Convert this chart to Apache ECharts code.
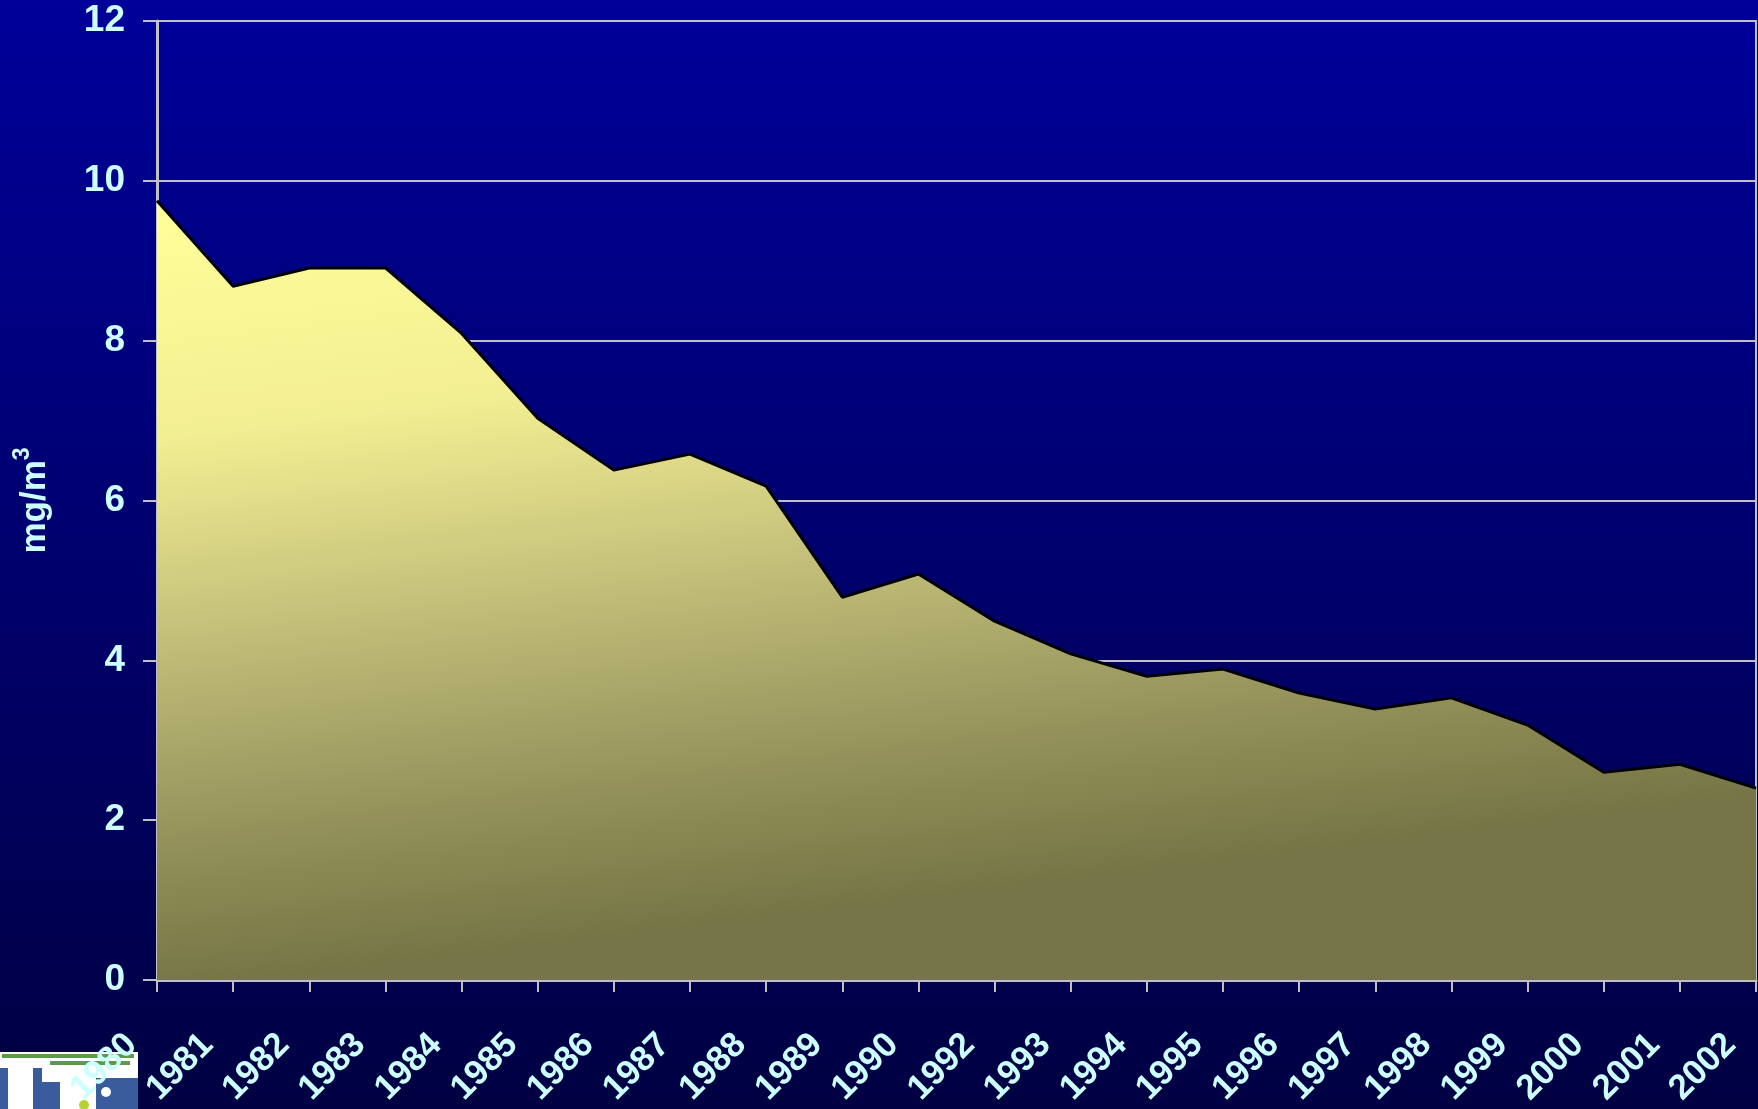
<!DOCTYPE html>
<html>
<head>
<meta charset="utf-8">
<title>mg/m3 1980-2002</title>
<script src="https://cdn.jsdelivr.net/npm/echarts@6/dist/echarts.min.js"></script>
<style>
  html, body { margin: 0; padding: 0; background: #000070; }
  #chart { width: 1758px; height: 1109px; }
</style>
</head>
<body>
<div id="chart"></div>
<script>
// years on the x axis (1991 is missing in the source)
const years = ['1980', '1981', '1982', '1983', '1984', '1985', '1986', '1987', '1988', '1989', '1990',
  '1992', '1993', '1994', '1995', '1996', '1997', '1998', '1999', '2000', '2001', '2002']

// concentration, mg/m3
const values = [9.75, 8.68, 8.91, 8.91, 8.09, 7.03, 6.38, 6.58, 6.18, 4.79, 5.08,
  4.49, 4.08, 3.80, 3.89, 3.59, 3.39, 3.53, 3.19, 2.60, 2.70, 2.40]

const yTicks = [0, 2, 4, 6, 8, 10, 12]
const unitBase = 'mg/m'
const unitPower = '3'

const labelColor = '#ccffff'
const lineGray = '#c0c0c0'
const font = 'Liberation Sans, Arial, sans-serif'

const chart = echarts.init(document.getElementById('chart'))

const option = {
  backgroundColor: new echarts.graphic.LinearGradient(0, 0, 0, 1, [
    { offset: 0, color: '#00009a' },
    { offset: 1, color: '#000042' }
  ]),
  animation: false,
  grid: {
    left: 157,
    right: 2,
    top: 21,
    bottom: 125,
    show: true,
    borderColor: lineGray,
    borderWidth: 2,
    backgroundColor: 'transparent'
  },
  xAxis: {
    type: 'category',
    data: years,
    boundaryGap: false,
    axisLine: { lineStyle: { color: lineGray, width: 3 } },
    axisTick: { show: true, length: 12, lineStyle: { color: lineGray, width: 2 } },
    axisLabel: {
      interval: 0,
      rotate: 45,
      margin: 34,
      padding: [0, 36, 0, 0],
      color: labelColor,
      fontFamily: font,
      fontWeight: 'bold',
      fontSize: 35
    },
    splitLine: { show: false }
  },
  yAxis: {
    type: 'value',
    min: yTicks[0],
    max: yTicks[yTicks.length - 1],
    interval: 2,
    name: '{a|' + unitBase + '}{b|' + unitPower + '}',
    nameLocation: 'middle',
    nameRotate: 90,
    nameGap: 104,
    nameTextStyle: {
      color: labelColor,
      fontFamily: font,
      fontWeight: 'bold',
      rich: {
        a: { color: labelColor, fontFamily: font, fontWeight: 'bold', fontSize: 35, lineHeight: 42, verticalAlign: 'bottom' },
        b: { color: labelColor, fontFamily: font, fontWeight: 'bold', fontSize: 23, lineHeight: 42, verticalAlign: 'top' }
      }
    },
    axisLine: { show: true, lineStyle: { color: lineGray, width: 3 } },
    axisTick: { show: true, length: 14, lineStyle: { color: lineGray, width: 2 } },
    axisLabel: {
      margin: 32,
      color: labelColor,
      fontFamily: font,
      fontWeight: 'bold',
      fontSize: 37
    },
    splitLine: { show: true, lineStyle: { color: lineGray, width: 2 } }
  },
  series: [
    {
      type: 'line',
      data: values,
      symbol: 'none',
      lineStyle: { color: '#000000', width: 3 },
      areaStyle: {
        opacity: 1,
        color: new echarts.graphic.LinearGradient(0, 0, 0.06, 1, [
          { offset: 0, color: '#ffff99' },
          { offset: 0.3, color: '#f2ee92' },
          { offset: 0.55, color: '#c4c07a' },
          { offset: 0.75, color: '#9e9c62' },
          { offset: 0.9, color: '#86844f' },
          { offset: 1, color: '#757547' }
        ])
      },
      z: 3
    }
  ],
  // small logo in the bottom-left corner, partly hidden behind the first label
  graphic: [
    {
      type: 'group',
      left: 0,
      top: 1052,
      z: -1,
      children: [
        { type: 'rect', shape: { x: 0, y: 0, width: 138, height: 57 }, style: { fill: '#ffffff' } },
        { type: 'rect', shape: { x: 2, y: 2, width: 132, height: 4 }, style: { fill: '#5c9a48' } },
        { type: 'rect', shape: { x: 50, y: 9, width: 80, height: 4 }, style: { fill: '#5c9a48' } },
        { type: 'rect', shape: { x: 0, y: 16, width: 8, height: 41 }, style: { fill: '#3b5c9c' } },
        { type: 'rect', shape: { x: 33, y: 16, width: 9, height: 41 }, style: { fill: '#3b5c9c' } },
        { type: 'rect', shape: { x: 42, y: 30, width: 18, height: 27 }, style: { fill: '#3b5c9c' } },
        { type: 'rect', shape: { x: 96, y: 26, width: 42, height: 31 }, style: { fill: '#3b5c9c' } },
        { type: 'circle', shape: { cx: 106, cy: 40, r: 5 }, style: { fill: '#ffffff' } },
        { type: 'circle', shape: { cx: 84, cy: 53, r: 5 }, style: { fill: '#b8d030' } }
      ]
    }
  ]
}

chart.setOption(option)
</script>
</body>
</html>
